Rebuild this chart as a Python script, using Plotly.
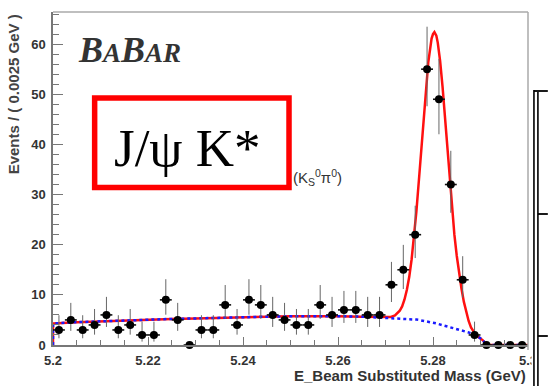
import numpy as np
import plotly.graph_objects as go

# ---------------- data ----------------
bin_centers = [5.20125, 5.20375, 5.20625, 5.20875, 5.21125, 5.21375, 5.21625, 5.21875,
               5.22125, 5.22375, 5.22625, 5.22875, 5.23125, 5.23375, 5.23625, 5.23875,
               5.24125, 5.24375, 5.24625, 5.24875, 5.25125, 5.25375, 5.25625, 5.25875,
               5.26125, 5.26375, 5.26625, 5.26875, 5.27125, 5.27375, 5.27625, 5.27875,
               5.28125, 5.28375, 5.28625, 5.28875, 5.29125, 5.29375, 5.29625, 5.29875]
counts = [3, 5, 3, 4, 6, 3, 4, 2, 2, 9, 5, 0, 3, 3, 8, 4, 9, 8, 6, 5,
          4, 4, 8, 6, 7, 7, 6, 6, 12, 15, 22, 55, 49, 32, 13, 2, 0, 0, 0, 0]
half_bin = 0.00125

fit_mass = [5.2000, 5.2000, 5.2050, 5.2100, 5.2150, 5.2200, 5.2250, 5.2300, 5.2350, 5.2400,
            5.2450, 5.2500, 5.2550, 5.2600, 5.2650, 5.2700, 5.2710, 5.2720, 5.2730, 5.2735,
            5.2740, 5.2745, 5.2750, 5.2755, 5.2760, 5.2765, 5.2770, 5.2775, 5.2780, 5.2785,
            5.2790, 5.2797, 5.2800, 5.2803, 5.2807, 5.2810, 5.2815, 5.2820, 5.2825, 5.2830,
            5.2835, 5.2840, 5.2845, 5.2850, 5.2855, 5.2860, 5.2865, 5.2870, 5.2875, 5.2880,
            5.2885, 5.2890, 5.2895, 5.2900, 5.2905, 5.2908, 5.2910, 5.3000]
bkg_fit = [0, 4.3, 4.55, 4.75, 4.9, 5.05, 5.2, 5.3, 5.45, 5.55,
           5.65, 5.72, 5.76, 5.75, 5.65, 5.45, 5.42, 5.38, 5.33, 5.30,
           5.27, 5.24, 5.20, 5.16, 5.12, 5.06, 5.00, 4.93, 4.85, 4.75,
           4.65, 4.52, 4.43, 4.38, 4.30, 4.22, 4.12, 4.00, 3.88, 3.77,
           3.65, 3.53, 3.40, 3.27, 3.13, 2.98, 2.83, 2.67, 2.50, 2.31,
           2.11, 1.89, 1.63, 1.33, 0.94, 0.60, 0, 0]
total_fit = [0, 4.3, 4.55, 4.75, 4.9, 5.05, 5.2, 5.3, 5.45, 5.55,
             5.65, 5.72, 5.76, 5.75, 5.65, 5.49, 5.57, 5.89, 6.83, 7.7,
             9.08, 11.0, 13.6, 17.1, 21.4, 26.6, 32.5, 38.8, 45.2, 51.2,
             56.3, 61.1, 62.0, 62.4, 61.7, 60.3, 56.6, 51.6, 45.5, 38.9,
             32.4, 26.5, 22.0, 17.8, 14.3, 11.2, 8.6, 6.5, 4.8, 3.5,
             2.6, 2.0, 1.65, 1.33, 0.94, 0.60, 0, 0]

x_tickvals = [5.2, 5.22, 5.24, 5.26, 5.28, 5.3]
x_ticktext = ["5.2", "5.22", "5.24", "5.26", "5.28", "5.3"]
y_tickvals = [0, 10, 20, 30, 40, 50, 60]
y_ticktext = ["0", "10", "20", "30", "40", "50", "60"]

# Poisson (Gehrels) error bars
n = np.array(counts, dtype=float)
err_up = np.where(n > 0, 1 + np.sqrt(n + 0.75), 0)
err_dn = np.where(n > 0, np.sqrt(np.clip(n - 0.25, 0, None)), 0)

# ---------------- geometry helpers (pixel -> paper) ----------------
W, H = 549, 386
L, R, T, B = 53, 17, 12, 41
PW, PH = W - L - R, H - T - B


def px(xp):
    return (xp - L) / PW


def py(yp):
    return (H - B - yp) / PH


fig = go.Figure()

fig.add_trace(go.Scatter(x=fit_mass, y=total_fit, mode="lines",
                         line=dict(color="#ff1010", width=2.5), hoverinfo="skip"))
fig.add_trace(go.Scatter(x=fit_mass, y=bkg_fit, mode="lines",
                         line=dict(color="#1a1aff", width=2.5, dash="dot"), hoverinfo="skip"))
fig.add_trace(go.Scatter(
    x=bin_centers, y=counts, mode="markers", cliponaxis=False,
    marker=dict(color="black", size=8),
    error_y=dict(type="data", symmetric=False, array=err_up, arrayminus=err_dn,
                 color="#666666", thickness=1, width=0),
    error_x=dict(type="constant", value=half_bin, color="#111111", thickness=1.6, width=0),
))

axis_col = "#777777"
tick_font = dict(family="Liberation Sans", size=13, color="#333333", weight="bold")

fig.update_xaxes(range=[5.2, 5.3], tickvals=x_tickvals, ticktext=x_ticktext,
                 ticks="inside", ticklen=8, tickwidth=1, tickcolor=axis_col,
                 showline=True, linecolor=axis_col, linewidth=1.5, ticklabelstandoff=3,
                 showgrid=False, zeroline=False, tickfont=tick_font,
                 minor=dict(dtick=0.005, ticks="inside", ticklen=5, tickcolor=axis_col, showgrid=False))
fig.update_yaxes(range=[0, 66.4], tickvals=y_tickvals, ticktext=y_ticktext,
                 ticks="inside", ticklen=10, tickwidth=1, tickcolor=axis_col,
                 showline=True, linecolor=axis_col, linewidth=1.5, ticklabelstandoff=3,
                 showgrid=False, zeroline=False, tickfont=tick_font,
                 minor=dict(dtick=2, ticks="inside", ticklen=6, tickcolor=axis_col, showgrid=False))

shapes = [
    # plot frame top/right
    dict(type="line", xref="paper", yref="paper", x0=0, x1=1, y0=1, y1=1,
         line=dict(color="#aaaaaa", width=1.5)),
    dict(type="line", xref="paper", yref="paper", x0=1, x1=1, y0=py(350), y1=1,
         line=dict(color="#aaaaaa", width=1.5)),
    # red box hiding the title
    dict(type="rect", xref="paper", yref="paper", x0=px(95), x1=px(291), y0=py(187.5), y1=py(98),
         line=dict(color="#ff0000", width=5.5), fillcolor="white", layer="above"),
    # neighbouring panel edge
    dict(type="rect", xref="paper", yref="paper", x0=px(535.5), x1=px(552), y0=py(390), y1=py(346),
         line=dict(width=0), fillcolor="white", layer="above"),
    dict(type="line", xref="paper", yref="paper", x0=px(538), x1=px(538), y0=py(390), y1=py(90),
         line=dict(color="black", width=1.6), layer="above"),
    dict(type="line", xref="paper", yref="paper", x0=px(542), x1=px(542), y0=py(390), y1=py(92),
         line=dict(color="black", width=1.6), layer="above"),
    dict(type="line", xref="paper", yref="paper", x0=px(538), x1=px(552), y0=py(91), y1=py(91),
         line=dict(color="black", width=1.8), layer="above"),
    dict(type="line", xref="paper", yref="paper", x0=px(542), x1=px(552), y0=py(214), y1=py(214),
         line=dict(color="black", width=1.8), layer="above"),
    dict(type="line", xref="paper", yref="paper", x0=px(542), x1=px(552), y0=py(336), y1=py(336),
         line=dict(color="black", width=1.8), layer="above"),
]

annotations = [
    dict(text="<b><i>B<span style='font-size:27px'>A</span>B<span style='font-size:27px'>AR</span></i></b>",
         xref="paper", yref="paper", x=px(130), y=py(50), xanchor="center", yanchor="middle",
         showarrow=False, font=dict(family="Liberation Serif", size=36, color="#333333")),
    dict(text="J/ψ K*", xref="paper", yref="paper", x=px(189), y=py(148),
         xanchor="center", yanchor="middle", showarrow=False,
         font=dict(family="Liberation Serif", size=53, color="black")),
    dict(text="(K<sub>S</sub><sup>0</sup>π<sup>0</sup>)", xref="paper", yref="paper",
         x=px(293), y=py(177), xanchor="left", yanchor="middle", showarrow=False,
         font=dict(family="Liberation Sans", size=15, color="#333333")),
    dict(text="Events / ( 0.0025 GeV )", xref="paper", yref="paper", x=px(13), y=py(12),
         xanchor="center", yanchor="top", textangle=-90, showarrow=False,
         font=dict(family="Liberation Sans", size=15, color="#444444", weight="bold")),
    dict(text="E_Beam Substituted Mass (GeV)", xref="paper", yref="paper", x=px(532), y=py(375.5),
         xanchor="right", yanchor="middle", showarrow=False,
         font=dict(family="Liberation Sans", size=15, color="#333333", weight="bold")),
]

fig.update_layout(width=W, height=H, margin=dict(l=L, r=R, t=T, b=B),
                  paper_bgcolor="white", plot_bgcolor="white", showlegend=False,
                  shapes=shapes, annotations=annotations)

fig.write_html("out.html")
